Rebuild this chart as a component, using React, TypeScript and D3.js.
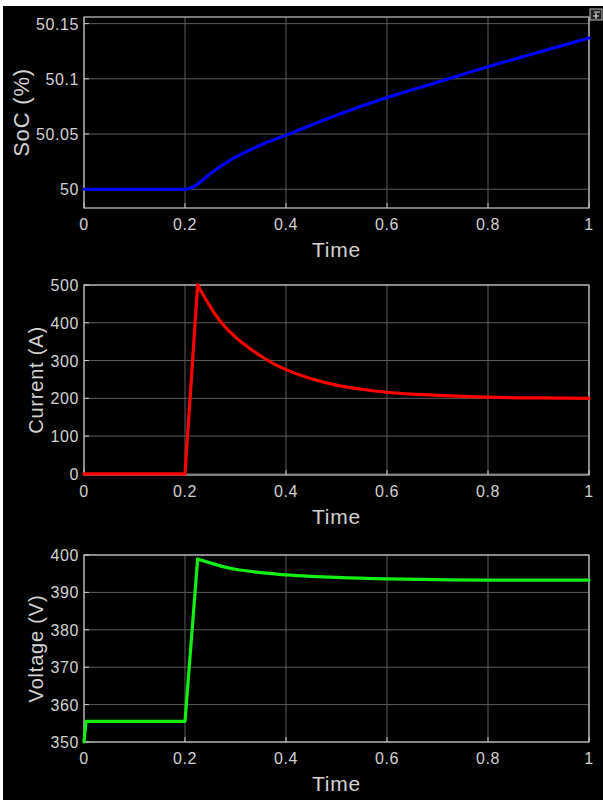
import React, { useEffect, useRef } from 'react';
import * as d3 from 'd3';

// time samples + values
const socTime = [0, 0.2, 0.205, 0.21, 0.22, 0.23, 0.25, 0.275, 0.3, 0.35, 0.4, 0.5, 0.6, 0.7, 0.8, 0.9, 1];
const socValues = [50, 50, 50.0002, 50.0008, 50.003, 50.0065, 50.014, 50.022, 50.029, 50.04, 50.049, 50.067, 50.083, 50.097, 50.111, 50.124, 50.137];

const currentTime = [0, 0.2, 0.225, 0.24, 0.26, 0.28, 0.3, 0.325, 0.35, 0.375, 0.4, 0.45, 0.5, 0.55, 0.6, 0.65, 0.7, 0.75, 0.8, 0.9, 1];
const currentValues = [0, 0, 500, 465, 422, 388, 362, 335, 312, 292, 276, 252, 235, 224, 216, 211, 208, 205, 203, 201, 200];

const voltageTime = [0, 0.004, 0.2, 0.225, 0.25, 0.275, 0.3, 0.35, 0.4, 0.45, 0.5, 0.6, 0.7, 0.8, 0.9, 1];
const voltageValues = [350, 355.5, 355.5, 398.9, 397.9, 396.9, 396.2, 395.3, 394.7, 394.3, 394.0, 393.6, 393.4, 393.3, 393.3, 393.3];

const timeTicks = [0, 0.2, 0.4, 0.6, 0.8, 1];
const socTicks = [50, 50.05, 50.1, 50.15];
const currentTicks = [0, 100, 200, 300, 400, 500];
const voltageTicks = [350, 360, 370, 380, 390, 400];

const W = 603;
const H = 800;
const FONT = 'Liberation Sans, Arial, sans-serif';

const App = () => {
  const ref = useRef<SVGSVGElement>(null);

  useEffect(() => {
    const svg = d3.select(ref.current);
    svg.selectAll('*').remove();

    svg.append('rect').attr('width', W).attr('height', H).attr('fill', '#fff');
    svg.append('rect').attr('x', 3).attr('y', 6).attr('width', W - 3).attr('height', H - 6).attr('fill', '#000');

    const x = d3.scaleLinear().domain([0, 1]).range([84, 589]);

    // smoothFrom: index where the trace becomes a smooth curve (corners before it stay sharp)
    const panels = [
      { t: socTime, v: socValues, ticks: socTicks, domain: [49.983, 50.156], range: [208, 17], color: '#0000ff', label: 'SoC (%)', labelX: 22, labelSize: 22, smoothFrom: 1 },
      { t: currentTime, v: currentValues, ticks: currentTicks, domain: [-3, 500], range: [475, 285], color: '#ff0000', label: 'Current (A)', labelX: 36, labelSize: 20, smoothFrom: 2 },
      { t: voltageTime, v: voltageValues, ticks: voltageTicks, domain: [350, 400], range: [742, 555], color: '#14f014', label: 'Voltage (V)', labelX: 36, labelSize: 20, smoothFrom: 3 },
    ];

    panels.forEach((p) => {
      const y = d3.scaleLinear().domain(p.domain).range(p.range);
      const [y0, y1] = p.range;
      const g = svg.append('g');

      // grid
      g.selectAll('.vg').data(timeTicks).enter().append('line')
        .attr('x1', (d) => x(d)).attr('x2', (d) => x(d))
        .attr('y1', y1).attr('y2', y0)
        .attr('stroke', '#5c5c5c').attr('stroke-width', 1);
      g.selectAll('.hg').data(p.ticks).enter().append('line')
        .attr('x1', 84).attr('x2', 589)
        .attr('y1', (d) => y(d)).attr('y2', (d) => y(d))
        .attr('stroke', '#5c5c5c').attr('stroke-width', 1);

      // frame
      g.append('rect')
        .attr('x', 84).attr('y', y1).attr('width', 589 - 84).attr('height', y0 - y1)
        .attr('fill', 'none').attr('stroke', '#c8c8c8').attr('stroke-width', 1.2);

      // little inward ticks
      g.selectAll('.xt').data(timeTicks).enter().append('line')
        .attr('x1', (d) => x(d)).attr('x2', (d) => x(d))
        .attr('y1', y0).attr('y2', y0 - 5)
        .attr('stroke', '#c8c8c8');
      g.selectAll('.yt').data(p.ticks).enter().append('line')
        .attr('x1', 84).attr('x2', 89)
        .attr('y1', (d) => y(d)).attr('y2', (d) => y(d))
        .attr('stroke', '#c8c8c8');

      // trace: sharp part, then smooth part
      const pts = p.t.map((t, i) => [t, p.v[i]] as [number, number]);
      const sharp = d3.line<[number, number]>()
        .x((d) => x(d[0]))
        .y((d) => y(Math.max(p.domain[0], d[1])));
      const smooth = d3.line<[number, number]>()
        .x((d) => x(d[0]))
        .y((d) => y(d[1]))
        .curve(d3.curveMonotoneX);
      [sharp(pts.slice(0, p.smoothFrom + 1)), smooth(pts.slice(p.smoothFrom))].forEach((dStr) => {
        g.append('path')
          .attr('d', dStr)
          .attr('fill', 'none').attr('stroke', p.color)
          .attr('stroke-width', 3.2).attr('stroke-linejoin', 'round').attr('stroke-linecap', 'round');
      });

      // tick labels
      g.selectAll('.xl').data(timeTicks).enter().append('text')
        .attr('x', (d) => x(d)).attr('y', y0 + 22)
        .attr('text-anchor', 'middle')
        .attr('fill', '#d2d2d2').attr('font-family', FONT).attr('font-size', 16)
        .attr('letter-spacing', 0.6)
        .text((d) => String(d));
      g.selectAll('.yl').data(p.ticks).enter().append('text')
        .attr('x', 79).attr('y', (d) => y(d) + 6)
        .attr('text-anchor', 'end')
        .attr('fill', '#d2d2d2').attr('font-family', FONT).attr('font-size', 16)
        .attr('letter-spacing', 0.6)
        .text((d) => String(d));

      // axis titles
      g.append('text')
        .attr('x', x(0.5)).attr('y', y0 + 49)
        .attr('text-anchor', 'middle')
        .attr('fill', '#d2d2d2').attr('font-family', FONT).attr('font-size', 21)
        .attr('letter-spacing', 0.8)
        .text('Time');
      g.append('text')
        .attr('transform', `translate(${p.labelX + 7},${(y0 + y1) / 2}) rotate(-90)`)
        .attr('text-anchor', 'middle')
        .attr('fill', '#d2d2d2').attr('font-family', FONT).attr('font-size', p.labelSize)
        .attr('letter-spacing', 0.8)
        .text(p.label);
    });

    // small undock icon, top right
    svg.append('rect').attr('x', 590).attr('y', 9).attr('width', 12).attr('height', 11)
      .attr('fill', '#222').attr('stroke', '#bbb').attr('stroke-width', 1);
    svg.append('path').attr('d', 'M593,16 L599,16 M596,13 L596,19 M594,12 L600,12')
      .attr('stroke', '#ddd').attr('stroke-width', 1.2).attr('fill', 'none');
  }, []);

  return (
    <div style={{ position: 'absolute', left: 0, top: 0 }}>
      <svg ref={ref} width={W} height={H} style={{ display: 'block' }} />
    </div>
  );
};

export default App;
